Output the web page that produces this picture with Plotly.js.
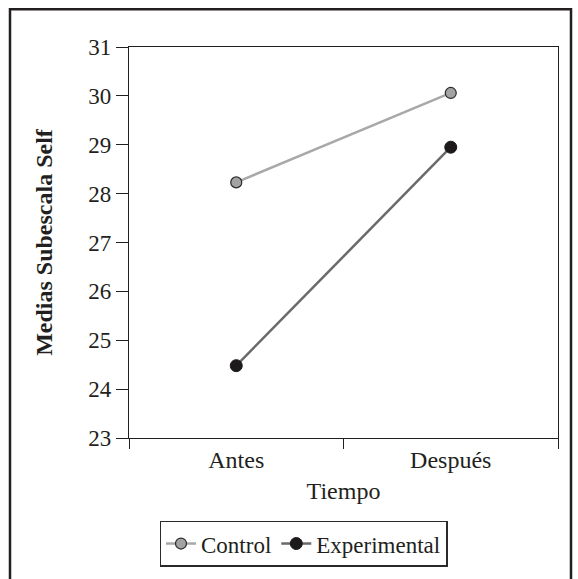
<!DOCTYPE html>
<html>
<head>
<meta charset="utf-8">
<script src="https://cdn.plot.ly/plotly-3.0.1.min.js"></script>
<style>html,body{margin:0;padding:0;background:#fff;}#chart{width:578px;height:579px;}
#chart .legendtext{font-family:'Liberation Serif', serif !important;}</style>
</head>
<body>
<div id="chart"></div>
<script>
const categories = ['Antes', 'Después'];
const controlValues = [28.23, 30.06];
const experimentalValues = [24.48, 28.95];
const yTicks = [23, 24, 25, 26, 27, 28, 29, 30, 31];

const font = 'Liberation Serif';
const ink = '#231f20';

const traces = [
  {
    x: categories, y: controlValues, name: 'Control', type: 'scatter', mode: 'lines+markers',
    line: {color: '#a8a8a8', width: 2.5},
    marker: {size: 11, color: '#a3a3a3', line: {color: '#2a2a2a', width: 1.2}}
  },
  {
    x: categories, y: experimentalValues, name: 'Experimental', type: 'scatter', mode: 'lines+markers',
    line: {color: '#6a6a6a', width: 2.5},
    marker: {size: 12, color: '#1c1a1b', line: {color: '#1c1a1b', width: 1}}
  }
];

const L = 129, R = 20, T = 47, B = 139;
const W = 578 - L - R, H = 579 - T - B;
const px = x => (x - L) / W;
const py = y => (579 - B - y) / H;

const layout = {
  width: 578, height: 579,
  margin: {l: L, r: R, t: T, b: B},
  paper_bgcolor: '#fff', plot_bgcolor: '#fff',
  font: {family: font, size: 23, color: ink},
  showlegend: true,
  legend: {
    orientation: 'h', x: px(303.5), xanchor: 'center', y: py(523), yanchor: 'top',
    bordercolor: '#2a2a2a', borderwidth: 1.5, font: {family: 'Times New Roman', size: 23, color: ink},
    tracegroupgap: 0
  },
  xaxis: {
    type: 'category', range: [-0.5, 1.5], tickson: 'boundaries',
    ticks: 'outside', ticklen: 10, tickcolor: ink, tickwidth: 1,
    showline: true, linecolor: ink, linewidth: 1.2, mirror: true,
    showgrid: false, zeroline: false,
    tickfont: {family: font, size: 24, color: ink},
    title: {text: 'Tiempo', font: {family: font, size: 24, color: ink}, standoff: 10}
  },
  yaxis: {
    range: [23, 31], tickvals: yTicks, ticktext: yTicks.map(String),
    ticks: 'outside', ticklen: 12, tickcolor: ink, tickwidth: 1,
    showline: true, linecolor: ink, linewidth: 1.2, mirror: true,
    showgrid: false, zeroline: false,
    tickfont: {family: font, size: 23, color: ink},
    title: {text: '<b>Medias Subescala Self</b>', font: {family: font, size: 24, color: ink}, standoff: 28}
  },
  shapes: [
    {type: 'rect', xref: 'paper', yref: 'paper', x0: px(10), x1: px(571), y0: py(9), y1: py(600),
     line: {color: ink, width: 2.5}, fillcolor: 'rgba(0,0,0,0)', layer: 'below'}
  ]
};

Plotly.newPlot('chart', traces, layout, {displayModeBar: false, staticPlot: true});
</script>
</body>
</html>
